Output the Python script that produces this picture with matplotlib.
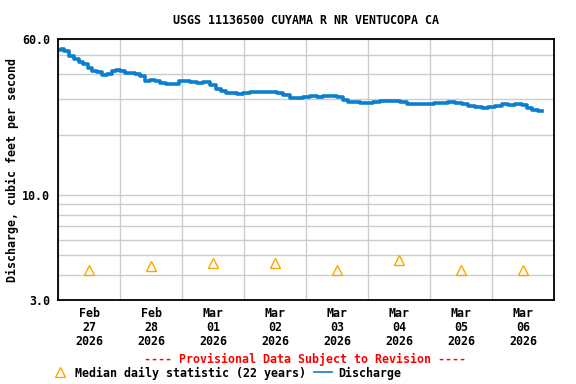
import matplotlib
matplotlib.use("Agg")
import matplotlib.pyplot as plt
import matplotlib.dates as mdates
from matplotlib.lines import Line2D
import pandas as pd

# Discharge readings, hours after 2026-02-27 00:00 and cfs
hours = [0.2, 1.7, 3.0, 4.9, 6.9, 8.8, 10.7, 12.0, 13.9, 15.9, 17.8, 19.7,
         21.7, 23.0, 24.9, 26.9, 28.8, 30.7, 32.7, 34.6, 36.5, 38.5, 40.4,
         43.0, 45.6, 48.2, 49.8, 52.1, 54.9, 57.4, 60.0, 61.9, 63.9, 65.8,
         67.7, 70.3, 72.9, 75.5, 78.1, 80.7, 83.2, 85.8, 88.4, 91.0, 93.6,
         96.2, 98.7, 101.3, 103.9, 106.5, 109.1, 111.0, 112.9, 115.5, 118.1,
         120.7, 123.3, 125.8, 128.4, 131.0, 133.6, 136.1, 138.7, 141.3,
         143.9, 147.1, 149.7, 152.3, 154.8, 157.4, 160.0, 162.6, 165.2,
         167.8, 170.3, 172.9, 175.5, 178.1, 180.6, 182.6, 184.5, 187.1]
discharge = [53.1, 53.8, 52.1, 49.2, 47.9, 46.1, 45.0, 43.0, 41.7, 41.0, 39.8,
             40.2, 41.4, 41.8, 41.4, 40.8, 40.6, 40.2, 39.4, 37.2, 37.3, 37.2,
             36.3, 35.8, 35.8, 37.2, 37.2, 36.6, 36.3, 36.6, 35.4, 33.7, 33.0,
             32.2, 32.2, 31.8, 32.2, 32.6, 32.8, 32.8, 32.6, 32.2, 31.4, 30.6,
             30.6, 30.9, 31.3, 31.0, 31.2, 31.2, 30.7, 29.8, 29.0, 29.0, 28.7,
             28.7, 29.1, 29.6, 29.3, 29.3, 29.1, 28.5, 28.5, 28.5, 28.4, 28.7,
             28.7, 29.0, 28.7, 28.5, 27.9, 27.4, 27.2, 27.6, 27.9, 28.4, 28.2,
             28.4, 28.2, 27.3, 26.7, 26.3]

# Median daily statistic (22 years), one per day at noon
median_days = ["2026-02-27", "2026-02-28", "2026-03-01", "2026-03-02",
               "2026-03-03", "2026-03-04", "2026-03-05", "2026-03-06"]
median_values = [4.21, 4.42, 4.61, 4.61, 4.21, 4.73, 4.21, 4.21]

ytick_values = [3, 10, 60]
ytick_labels = ["3.0", "10.0", "60.0"]
ygrid_minor = [4, 5, 6, 7, 8, 9, 20, 30, 40, 50]

start = pd.Timestamp("2026-02-27")
times = start + pd.to_timedelta(hours, unit="h")
median_times = pd.to_datetime(median_days) + pd.Timedelta(hours=12)

plt.rcParams["font.family"] = "DejaVu Sans Mono"
plt.rcParams["font.weight"] = "bold"
FS = 8.4

fig = plt.figure(figsize=(5.76, 3.84), dpi=100)
ax = fig.add_axes([58.3 / 576, 1 - 300 / 384, 496 / 576, 261 / 384])

ax.plot(times, discharge, color="#0a7fcf", lw=2.6, drawstyle="steps-mid")
ax.plot(median_times, median_values, linestyle="none", marker="^",
        markersize=7, markerfacecolor="none", markeredgecolor="#ffa500",
        markeredgewidth=1.0)

ax.set_yscale("log")
ax.set_ylim(3, 60)
ax.set_yticks(ytick_values)
ax.set_yticklabels(ytick_labels)
ax.set_yticks(ygrid_minor, minor=True)
ax.yaxis.set_minor_formatter(plt.NullFormatter())

ax.set_xlim(start, start + pd.Timedelta(days=8))
ax.xaxis.set_major_locator(mdates.HourLocator(byhour=[12]))
ax.xaxis.set_major_formatter(mdates.DateFormatter("%b\n%d\n%Y"))
ax.xaxis.set_minor_locator(mdates.DayLocator())

ax.grid(True, which="minor", axis="both", color="#cccccc", lw=1.0)
ax.grid(True, which="major", axis="y", color="#cccccc", lw=1.0)
ax.set_axisbelow(True)

ax.tick_params(which="both", length=0)
ax.tick_params(axis="y", pad=6, labelsize=FS)
ax.tick_params(axis="x", pad=5, labelsize=FS)
for lab in ax.get_xticklabels():
    lab.set_linespacing(1.1)
for sp in ax.spines.values():
    sp.set_linewidth(1.3)

fig.text(306 / 576, 1 - 21 / 384, "USGS 11136500 CUYAMA R NR VENTUCOPA CA",
         ha="center", va="center", fontsize=FS)
fig.text(12 / 576, 1 - 170 / 384, "Discharge, cubic feet per second",
         ha="center", va="center", rotation=90, fontsize=FS)
fig.text(305 / 576, 1 - 359 / 384,
         "---- Provisional Data Subject to Revision ----",
         ha="center", va="center", fontsize=FS, color="red")

handles = [
    Line2D([], [], linestyle="none", marker="^", markersize=7,
           markerfacecolor="none", markeredgecolor="#ffa500"),
    Line2D([], [], color="#0a7fcf", lw=1.2),
]
fig.legend(handles, ["Median daily statistic (22 years)", "Discharge"],
           loc="center", bbox_to_anchor=(226 / 576, 1 - 373 / 384), ncol=2,
           frameon=False, fontsize=FS, handlelength=1.55, handletextpad=0.5,
           columnspacing=0.7, borderpad=0, borderaxespad=0)

fig.savefig("out.png", dpi=100)
